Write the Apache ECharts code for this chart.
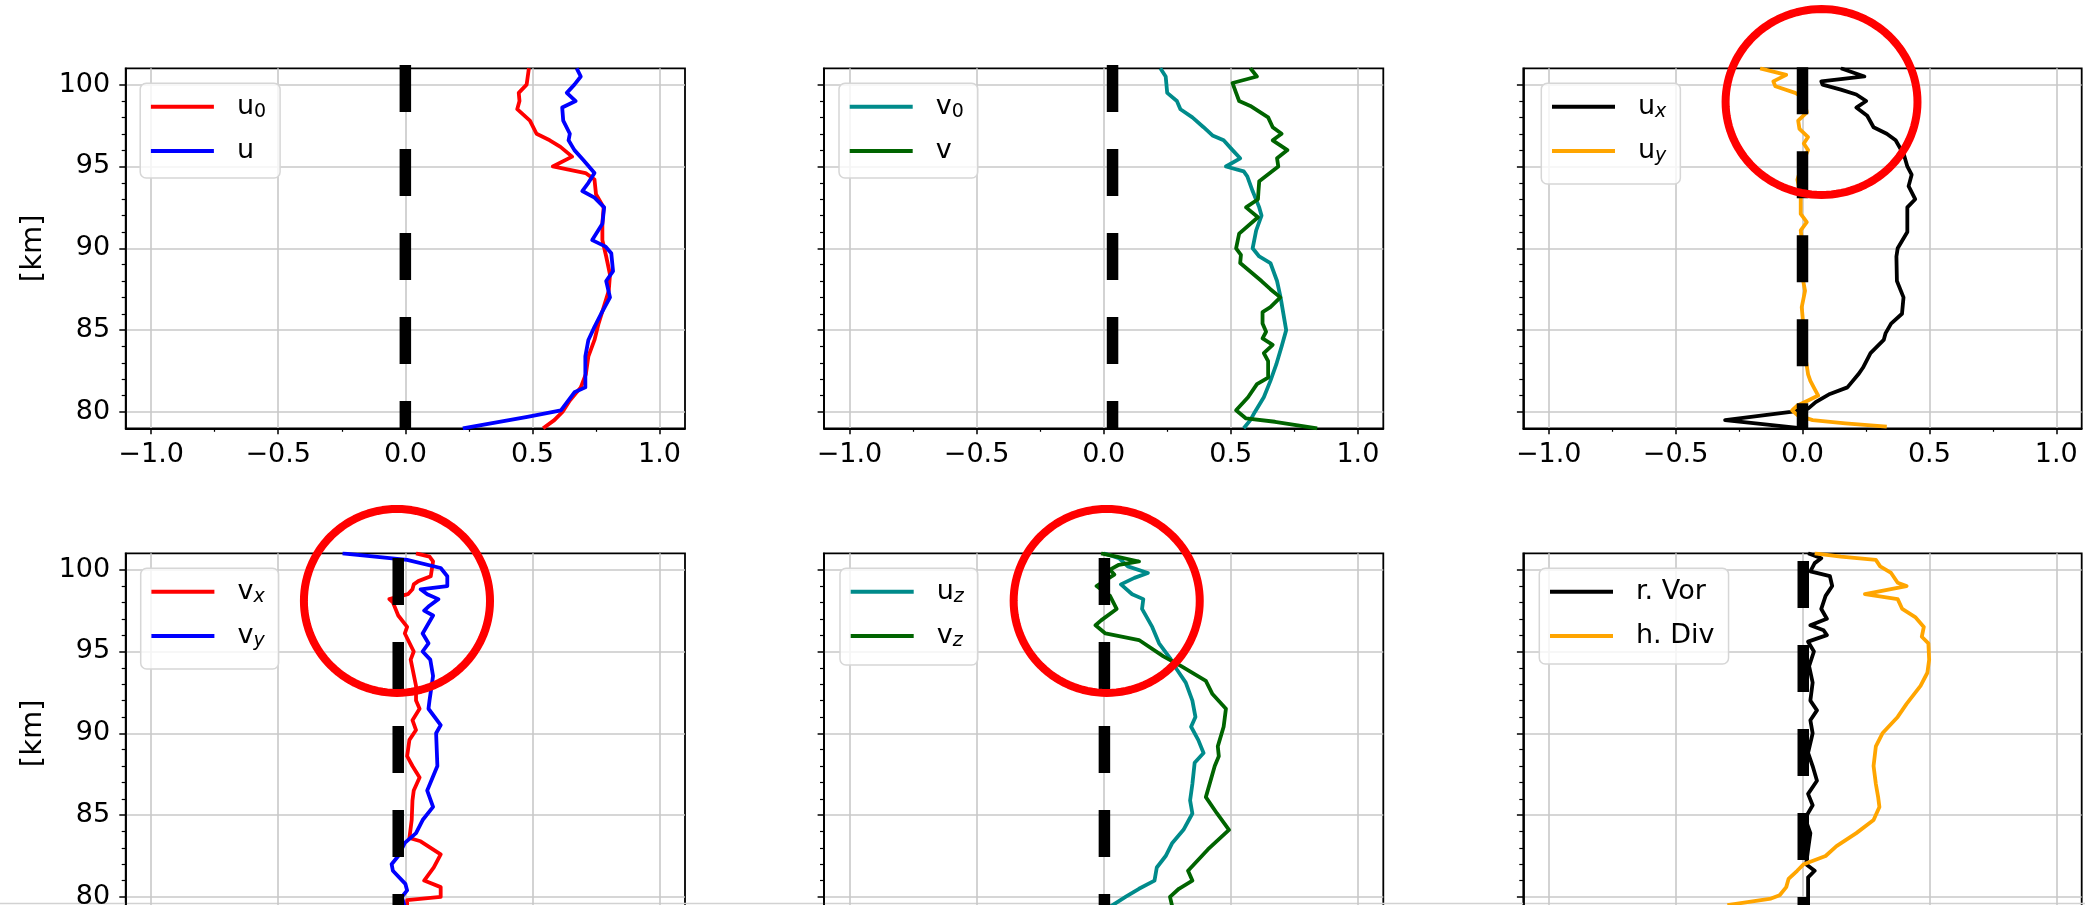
<!DOCTYPE html>
<html><head><meta charset="utf-8">
<script src="https://cdn.jsdelivr.net/npm/echarts@6/dist/echarts.min.js"></script>
<style>html,body{margin:0;padding:0;background:#fff}#c{width:2085px;height:905px}</style>
</head><body><div id="c"></div>
<script>
// ---------- data: [value, altitude km] ----------
const u0 = [[0.486,101],[0.477,100],[0.446,99.5],[0.449,99],[0.44,98.5],[0.49,97.8],[0.516,97],[0.568,96.6],[0.61,96.2],[0.656,95.6],[0.58,95],[0.709,94.6],[0.744,94.2],[0.75,93.3],[0.78,92.5],[0.775,91.5],[0.775,90.5],[0.79,89.5],[0.805,88.4],[0.80,87.4],[0.78,86.4],[0.76,85.4],[0.744,84.4],[0.72,83.4],[0.71,82.3],[0.69,81.5],[0.647,80.7],[0.618,80],[0.586,79.5],[0.542,79]];
const u = [[0.674,101],[0.69,100.5],[0.665,100],[0.635,99.5],[0.67,99],[0.617,98.6],[0.621,97.8],[0.647,97],[0.642,96.6],[0.665,96],[0.70,95.4],[0.744,94.6],[0.72,94],[0.696,93.5],[0.744,93.1],[0.782,92.5],[0.775,91.5],[0.735,90.5],[0.788,90.1],[0.81,89.7],[0.817,88.6],[0.79,88],[0.805,87],[0.77,86],[0.744,85.2],[0.72,84.4],[0.708,83.4],[0.708,82.3],[0.708,81.5],[0.665,81.2],[0.612,80.1],[0.48,79.7],[0.226,79]];
const v0 = [[0.223,101],[0.244,100.5],[0.247,100],[0.25,99.5],[0.288,99],[0.302,98.5],[0.349,98],[0.393,97.4],[0.428,96.9],[0.472,96.6],[0.507,96],[0.537,95.5],[0.481,95],[0.551,94.7],[0.565,94.4],[0.586,93.5],[0.612,92.5],[0.621,92],[0.60,91.1],[0.586,90],[0.612,89.5],[0.656,89.1],[0.682,88],[0.696,87],[0.718,85],[0.70,84],[0.679,82.9],[0.656,81.9],[0.63,80.9],[0.595,80],[0.577,79.5],[0.551,79]];
const v = [[0.577,101],[0.603,100.5],[0.507,100.1],[0.521,99.5],[0.533,99],[0.577,98.7],[0.647,98],[0.665,97.4],[0.70,97],[0.665,96.6],[0.723,96],[0.682,95.5],[0.687,95],[0.612,94.1],[0.609,93.5],[0.607,93],[0.56,92.5],[0.607,91.9],[0.533,90.9],[0.521,90],[0.54,89.6],[0.537,89.1],[0.621,88],[0.656,87.5],[0.695,87],[0.656,86.4],[0.625,86.1],[0.625,85.4],[0.639,84.9],[0.625,84.5],[0.665,84.1],[0.63,83.6],[0.647,83.1],[0.647,82.1],[0.603,81.7],[0.568,80.9],[0.521,80.1],[0.56,79.6],[0.674,79.4],[0.84,79]];
const ux = [[0.151,101],[0.244,100.5],[0.074,100.2],[0.079,100],[0.151,99.7],[0.212,99.4],[0.251,99],[0.212,98.6],[0.255,98.1],[0.28,97.4],[0.332,97],[0.367,96.6],[0.40,95.7],[0.413,95],[0.43,94.5],[0.418,93.8],[0.444,93],[0.413,92.5],[0.413,91],[0.375,90],[0.37,89.5],[0.372,88],[0.398,87],[0.392,86],[0.349,85.4],[0.327,84.8],[0.32,84.4],[0.268,83.6],[0.238,82.7],[0.22,82.3],[0.177,81.5],[0.108,81.1],[0.052,80.6],[0.022,80.2],[-0.046,80],[-0.305,79.5],[0.0,79]];
const uy = [[-0.167,101],[-0.064,100.6],[-0.115,100.2],[-0.107,99.9],[-0.029,99.5],[0.005,99.2],[0.017,98.3],[-0.017,97.8],[-0.012,97.3],[0.022,96.8],[0.005,96.4],[0.022,96],[0.0,95.2],[-0.02,94.2],[-0.007,93.1],[-0.007,92.1],[0.017,91.6],[-0.007,91.1],[-0.003,90.5],[-0.003,88.5],[0.01,87.4],[-0.003,86.4],[0.005,85],[0.014,83.1],[0.022,82.3],[0.031,81.9],[0.048,81.4],[0.062,81],[0.022,80.7],[-0.02,80.4],[-0.041,80.1],[-0.02,79.8],[0.04,79.5],[0.169,79.3],[0.332,79.1]];
const vx = [[0.042,101],[0.095,100.8],[0.109,100.5],[0.1,99.6],[0.051,99.3],[0.033,99.1],[0.028,98.8],[0.01,98.5],[-0.063,98.2],[-0.049,98],[-0.028,97.2],[0.007,96.5],[-0.002,96.1],[0.033,95],[0.021,94.5],[0.042,92.9],[0.042,92],[0.056,91.5],[0.028,90.8],[0.042,90.2],[0.016,89.6],[0.007,88.6],[0.028,88],[0.056,87.3],[0.033,86.5],[0.028,85.9],[0.025,84.7],[0.016,83.6],[0.06,83.4],[0.139,82.6],[0.112,81.8],[0.074,81],[0.139,80.6],[0.139,80],[0.007,79.8],[0.007,79.4]];
const vy = [[-0.247,101],[0.007,100.6],[0.139,100.1],[0.165,99.6],[0.165,99],[0.06,98.8],[0.086,98.5],[0.13,98.2],[0.095,97.8],[0.074,97.5],[0.109,97.2],[0.068,96.1],[0.091,95.5],[0.068,95],[0.098,94.5],[0.109,93.5],[0.095,92],[0.091,91.5],[0.139,90.5],[0.121,90],[0.126,88],[0.086,86.5],[0.109,85.5],[0.068,84.7],[0.042,83.9],[-0.002,83.3],[-0.028,82.5],[-0.054,82],[-0.049,81.6],[0.0,80.8],[0.007,80.4],[-0.014,80],[-0.002,79.4]];
const uz = [[0.0,101],[0.06,100.7],[0.095,100.2],[0.174,99.8],[0.121,99.5],[0.068,99.1],[0.112,98.5],[0.156,98.2],[0.151,97.6],[0.191,96.5],[0.218,95.5],[0.261,94.6],[0.288,93.9],[0.323,93.1],[0.349,92],[0.361,91],[0.344,90.4],[0.372,89.6],[0.393,88.8],[0.358,88.2],[0.349,86.9],[0.34,85.9],[0.349,85.1],[0.314,84.1],[0.27,83.3],[0.244,82.5],[0.209,81.8],[0.2,81],[0.139,80.5],[0.086,80],[0.025,79.4]];
const vz = [[-0.01,101],[0.051,100.8],[0.139,100.5],[0.06,100.3],[0.025,100],[0.042,99.7],[-0.028,99],[0.025,98.4],[0.051,97.6],[-0.01,96.9],[-0.032,96.6],[0.007,96.1],[0.139,95.7],[0.235,94.7],[0.305,94.1],[0.402,93.2],[0.428,92.4],[0.481,91.5],[0.472,90.4],[0.449,89.2],[0.453,88.6],[0.437,88],[0.402,86.1],[0.446,85.1],[0.493,84.1],[0.41,82.9],[0.332,81.6],[0.349,81],[0.296,80.5],[0.261,80],[0.27,79.4]];
const rVor = [[0.022,101],[0.074,100.7],[0.048,100.4],[0.031,99.9],[0.108,99.6],[0.117,99],[0.091,98.4],[0.074,97.6],[0.096,97],[0.031,96.6],[0.083,96.3],[0.096,96],[0.022,95.6],[0.045,95],[0.026,94.1],[0.04,93.1],[0.031,92],[0.057,91.4],[0.031,90.8],[0.04,90],[0.022,88.8],[0.04,88],[0.057,87.1],[0.022,86.3],[0.04,85.6],[0.01,84.8],[0.031,83.9],[0.022,82.9],[0.014,82],[0.048,81.6],[0.022,81.2],[0.022,80.4],[0.022,79.4]];
const hDiv = [[0.048,101],[0.151,100.8],[0.289,100.6],[0.306,100.2],[0.349,99.8],[0.375,99.2],[0.41,99],[0.246,98.5],[0.375,98.2],[0.393,97.6],[0.444,97.1],[0.478,96.5],[0.47,95.9],[0.496,95.5],[0.499,94.5],[0.492,93.7],[0.465,92.9],[0.41,91.8],[0.375,91],[0.315,90],[0.289,89.2],[0.28,88],[0.289,86.9],[0.298,86.1],[0.303,85.5],[0.28,84.7],[0.212,83.9],[0.134,83.1],[0.091,82.5],[0.005,82],[-0.021,81.6],[-0.055,81.1],[-0.064,80.6],[-0.09,80.1],[-0.124,79.9],[-0.296,79.5]];

// zero reference (thick dashed) line x-position and top altitude per panel
const dashX = [0.0, 0.035, 0.0, -0.028, 0.003, 0.003];
const dashTop = [101.2, 101.2, 101.06, 100.71, 100.71, 100.53];
// red annotation ellipses: [panel, centre value, centre km, radius value, radius km]
const circles = [[2, 0.075, 98.94, 0.378, 5.68], [3, -0.033, 98.09, 0.366, 5.62], [4, 0.012, 98.09, 0.366, 5.62]];

const xTicks = [-1.0, -0.5, 0.0, 0.5, 1.0];
const yTicks = [80, 85, 90, 95, 100];

const panelSeries = [
  [['u0', u0, '#ff0000'], ['u', u, '#0000ff']],
  [['v0', v0, '#008b8b'], ['v', v, '#006400']],
  [['ux', ux, '#000000'], ['uy', uy, '#ffa500']],
  [['vx', vx, '#ff0000'], ['vy', vy, '#0000ff']],
  [['uz', uz, '#008b8b'], ['vz', vz, '#006400']],
  [['r. Vor', rVor, '#000000'], ['h. Div', hDiv, '#ffa500']]
];
const legendText = {
  'u0': '{m|u}{s|0}', 'u': '{m|u}', 'v0': '{m|v}{s|0}', 'v': '{m|v}',
  'ux': '{m|u}{i|x}', 'uy': '{m|u}{i|y}', 'vx': '{m|v}{i|x}', 'vy': '{m|v}{i|y}',
  'uz': '{m|u}{i|z}', 'vz': '{m|v}{i|z}', 'r. Vor': '{m|r. Vor}', 'h. Div': '{m|h. Div}'
};

// ---------- layout ----------
const FONT = 'DejaVu Sans';
const gridLeft = [125.7, 824, 1523.3];
const gridTop = [68.3, 553.3];
const gridW = [559.3, 559.3, 558.4];
const gridH = 360;
const legPadBottom = [12, 12, 18, 18, 14, 13];
const legOffX = [14.5, 15, 18, 15, 16, 16];

const chart = echarts.init(document.getElementById('c'), null, {renderer: 'canvas', width: 2085, height: 905});

const option = {
  animation: false,
  backgroundColor: '#ffffff',
  grid: [], xAxis: [], yAxis: [], legend: [], series: [],
  graphic: [{type: 'line', silent: true, shape: {x1: 0, y1: 903.5, x2: 2085, y2: 903.5}, style: {stroke: '#d2d2d2', lineWidth: 1.5}}]
};

const fmtX = val => (val < 0 ? '\u2212' : '') + Math.abs(val).toFixed(1);

for (let i = 0; i < 6; i++) {
  const r = Math.floor(i / 3), c = i % 3;
  option.grid.push({left: gridLeft[c], top: gridTop[r], width: gridW[c], height: gridH,
    outerBoundsMode: 'none', containLabel: false,
    show: true, borderColor: '#000', borderWidth: 1.8, backgroundColor: 'transparent'});
  option.xAxis.push({
    gridIndex: i, type: 'value', min: -1.1, max: 1.1, splitNumber: 4,
    axisLine: {show: true, onZero: false, lineStyle: {color: '#000', width: 1.8}},
    axisTick: {show: true, length: 6, customValues: xTicks, lineStyle: {color: '#000', width: 1.5}},
    minorTick: {show: true, splitNumber: 2, length: 3.5, lineStyle: {color: '#000', width: 1.2}},
    axisLabel: {show: true, customValues: xTicks, formatter: fmtX, fontSize: 27, fontFamily: FONT, color: '#000', margin: 13},
    splitLine: {show: true, lineStyle: {color: '#c8c8c8', width: 1.6}},
    minorSplitLine: {show: false}
  });
  option.yAxis.push({
    gridIndex: i, type: 'value', min: 79, max: 101, splitNumber: 5,
    axisLine: {show: true, onZero: false, lineStyle: {color: '#000', width: 1.8}},
    axisTick: {show: true, length: 6.4, customValues: yTicks, lineStyle: {color: '#000', width: 1.5}},
    minorTick: {show: true, splitNumber: 5, length: 4, lineStyle: {color: '#000', width: 1.2}},
    axisLabel: {show: c === 0, customValues: yTicks, formatter: val => String(Math.round(val)), fontSize: 27, fontFamily: FONT, color: '#000', margin: 15.5},
    splitLine: {show: true, lineStyle: {color: '#c8c8c8', width: 1.6}},
    name: c === 0 ? '[km]' : '', nameLocation: 'middle', nameGap: 78, nameRotate: 90,
    nameTextStyle: {fontSize: 29, fontFamily: FONT, color: '#000'}
  });
  const names = [];
  panelSeries[i].forEach(([name, data, color]) => {
    names.push(name);
    option.series.push({
      type: 'line', name: name, xAxisIndex: i, yAxisIndex: i, data: data,
      symbol: 'none', showSymbol: false, silent: true, color: color, z: 2,
      lineStyle: {color: color, width: 3.8, join: 'round'}
    });
  });
  option.series.push({
    type: 'line', xAxisIndex: i, yAxisIndex: i, data: [[dashX[i], dashTop[i]], [dashX[i], 79]],
    symbol: 'none', showSymbol: false, silent: true, clip: false, z: 3,
    lineStyle: {color: '#000', width: 11.5, type: [47, 37], cap: 'butt'}
  });
  option.legend.push({
    show: true, data: names, selectedMode: false, orient: 'vertical',
    left: gridLeft[c] + legOffX[i], top: gridTop[r] + 15,
    icon: 'rect', itemWidth: 63, itemHeight: 4, itemGap: 14.3,
    padding: [8.4, 14, legPadBottom[i], 10.7],
    backgroundColor: 'rgba(255,255,255,0.8)', borderColor: '#d6d6d6', borderWidth: 1.5, borderRadius: 6,
    formatter: n => legendText[n],
    textStyle: {
      fontSize: 27, fontFamily: FONT, color: '#000', lineHeight: 30, padding: [0, 0, 0, 18],
      rich: {
        m: {fontSize: 27, fontFamily: FONT, color: '#000', lineHeight: 30},
        s: {fontSize: 19, fontFamily: FONT, color: '#000', lineHeight: 19, verticalAlign: 'bottom'},
        i: {fontSize: 19, fontFamily: FONT, fontStyle: 'italic', color: '#000', lineHeight: 19, verticalAlign: 'bottom'}
      }
    }
  });
}

circles.forEach(([p, cx, cy, rx, ry]) => {
  option.series.push({
    type: 'custom', xAxisIndex: p, yAxisIndex: p, clip: false, silent: true, z: 6,
    encode: {x: 0, y: 1},
    data: [[cx, cy, rx, ry]],
    renderItem: (params, api) => {
      const ctr = api.coord([api.value(0), api.value(1)]);
      const sz = api.size([api.value(2), api.value(3)]);
      const pts = [];
      for (let k = 0; k < 120; k++) {
        const a = k / 120 * Math.PI * 2;
        pts.push([ctr[0] + sz[0] * Math.cos(a), ctr[1] + sz[1] * Math.sin(a)]);
      }
      return {type: 'polygon', shape: {points: pts}, style: {fill: 'none', stroke: '#ff0000', lineWidth: 8, lineJoin: 'round'}};
    }
  });
});

chart.setOption(option);
</script></body></html>
